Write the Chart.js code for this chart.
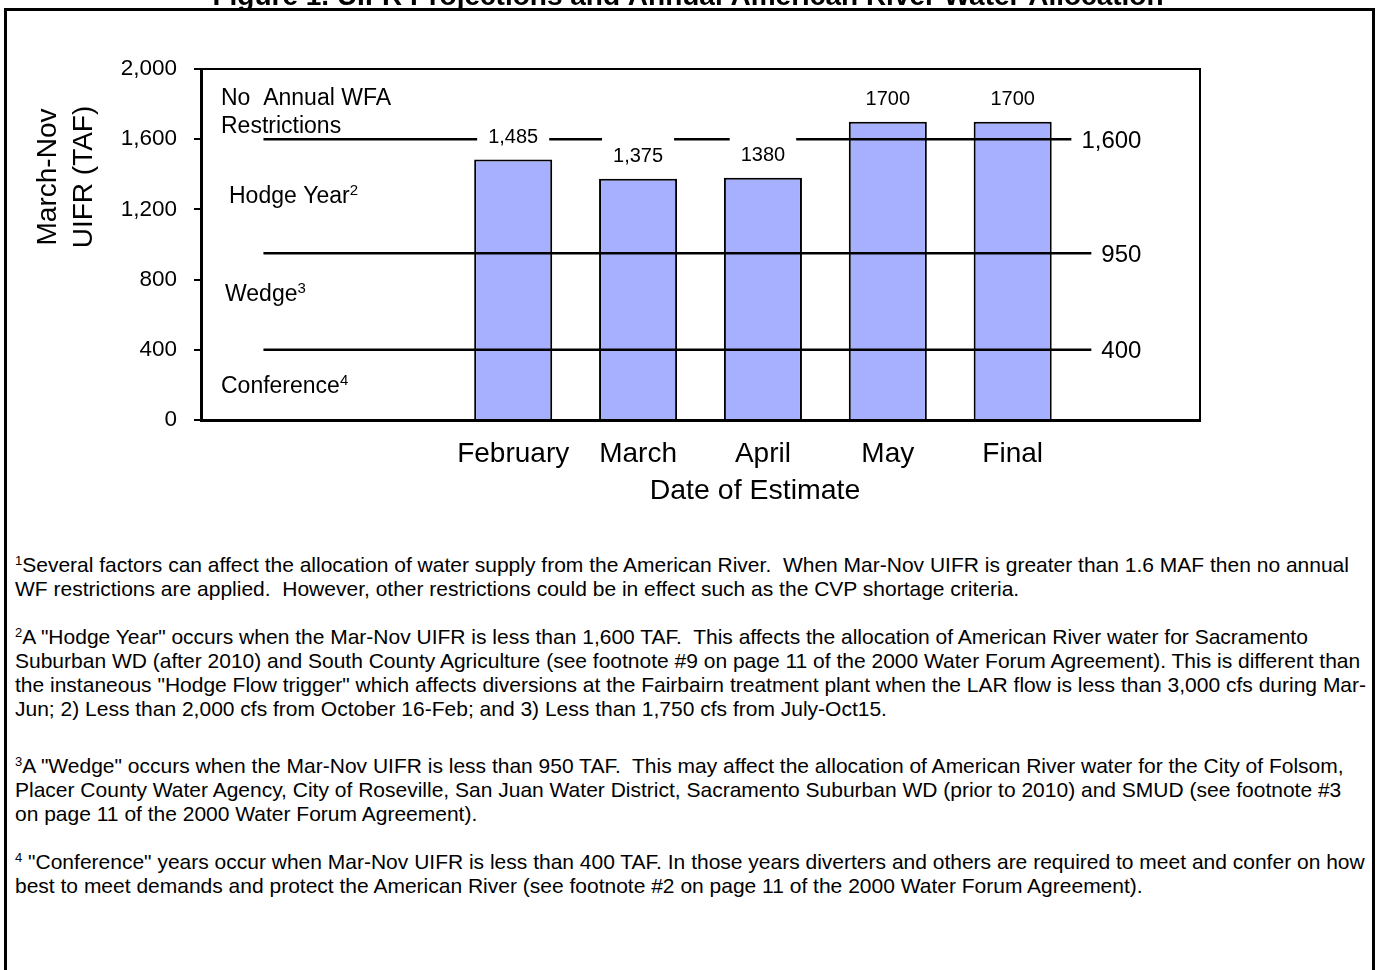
<!DOCTYPE html>
<html>
<head>
<meta charset="utf-8">
<script src="https://cdn.jsdelivr.net/npm/chart.js@4.4.1/dist/chart.umd.min.js"></script>
<style>
  body { margin: 0; background: #fff; font-family: "Liberation Sans", Arial, sans-serif; }
  #frame { position: absolute; left: 4px; top: 8px; width: 1365px; height: 1000px; border: 3px solid #000; }
  #chart { position: absolute; left: 0; top: 0; }
  #notes { position: absolute; left: 15px; top: 553px; font-size: 21px; line-height: 24px; color: #000; white-space: nowrap; }
  #notes p { margin: 0 0 24px 0; }
  #notes p.p2 { margin-bottom: 33px; }
  #notes sup { font-size: 13px; vertical-align: 7px; line-height: 0; }
</style>
</head>
<body>
<div id="frame"></div>
<canvas id="chart" width="1377" height="530"></canvas>
<div id="notes">
  <p><sup>1</sup>Several factors can affect the allocation of water supply from the American River.&nbsp; When Mar-Nov UIFR is greater than 1.6 MAF then no annual<br>WF restrictions are applied.&nbsp; However, other restrictions could be in effect such as the CVP shortage criteria.</p>
  <p class="p2"><sup>2</sup>A "Hodge Year" occurs when the Mar-Nov UIFR is less than 1,600 TAF.&nbsp; This affects the allocation of American River water for Sacramento<br>Suburban WD (after 2010) and South County Agriculture (see footnote #9 on page 11 of the 2000 Water Forum Agreement). This is different than<br>the instaneous "Hodge Flow trigger" which affects diversions at the Fairbairn treatment plant when the LAR flow is less than 3,000 cfs during Mar-<br>Jun; 2) Less than 2,000 cfs from October 16-Feb; and 3) Less than 1,750 cfs from July-Oct15.</p>
  <p><sup>3</sup>A "Wedge" occurs when the Mar-Nov UIFR is less than 950 TAF.&nbsp; This may affect the allocation of American River water for the City of Folsom,<br>Placer County Water Agency, City of Roseville, San Juan Water District, Sacramento Suburban WD (prior to 2010) and SMUD (see footnote #3<br>on page 11 of the 2000 Water Forum Agreement).</p>
  <p><sup>4</sup> "Conference" years occur when Mar-Nov UIFR is less than 400 TAF. In those years diverters and others are required to meet and confer on how<br>best to meet demands and protect the American River (see footnote #2 on page 11 of the 2000 Water Forum Agreement).</p>
</div>
<script>
// categories (empty slots keep the bars where they are in the original)
const categories = ['', '', 'February', 'March', 'April', 'May', 'Final', ''];
const uifr = [null, null, 1485, 1375, 1380, 1700, 1700, null];
const barLabels = ['', '', '1,485', '1,375', '1380', '1700', '1700', ''];

// WFA thresholds (TAF)
const thresholds = [1600, 950, 400];
const thresholdLabels = ['1,600', '950', '400'];
// line extent, in category units
const thresholdStart = [0.5, 0.5, 0.5];
const thresholdEnd = [6.97, 7.13, 7.13];

const yTicks = [0, 400, 800, 1200, 1600, 2000];

const FONT = '"Liberation Sans", Arial, sans-serif';

const lineSets = thresholds.map((t, i) => ({
  type: 'line',
  xAxisID: 'x2',
  data: [{ x: thresholdStart[i], y: t }, { x: thresholdEnd[i], y: t }],
  borderColor: '#000',
  borderWidth: 2.5,
  pointRadius: 0,
  order: 0
}));

// labels, notes and titles drawn on top
const overlay = {
  id: 'overlay',
  afterDatasetsDraw(chart) {
    const ctx = chart.ctx;
    const a = chart.chartArea;
    const x = chart.scales.x, y = chart.scales.y, x2 = chart.scales.x2;
    ctx.save();

    // top and right frame of plot
    ctx.strokeStyle = '#000';
    ctx.lineWidth = 2;
    ctx.beginPath();
    ctx.moveTo(a.left, a.top);
    ctx.lineTo(a.right, a.top);
    ctx.lineTo(a.right, a.bottom);
    ctx.stroke();

    // bar value labels on white boxes
    ctx.font = '20px ' + FONT;
    ctx.textAlign = 'center';
    ctx.textBaseline = 'middle';
    uifr.forEach((v, i) => {
      if (v == null) return;
      const cx = x.getPixelForValue(i);
      const cy = y.getPixelForValue(v) - 23;
      const w = ctx.measureText(barLabels[i]).width + 22;
      ctx.fillStyle = '#fff';
      ctx.fillRect(cx - w / 2, cy - 20, w, 40);
      ctx.fillStyle = '#000';
      ctx.fillText(barLabels[i], cx, cy + 1);
    });

    // threshold values at the right end of the lines
    ctx.font = '24px ' + FONT;
    ctx.textAlign = 'left';
    thresholds.forEach((t, i) => {
      ctx.fillText(thresholdLabels[i], x2.getPixelForValue(thresholdEnd[i]) + 10, y.getPixelForValue(t) + 2);
    });

    // zone names
    const notes = [
      { text: 'No  Annual WFA', sup: '', dx: 20, v: 1829 },
      { text: 'Restrictions', sup: '', dx: 20, v: 1672 },
      { text: 'Hodge Year', sup: '2', dx: 28, v: 1270 },
      { text: 'Wedge', sup: '3', dx: 24, v: 712 },
      { text: 'Conference', sup: '4', dx: 20, v: 188 }
    ];
    notes.forEach(n => {
      const px = a.left + n.dx, py = y.getPixelForValue(n.v);
      ctx.font = '23px ' + FONT;
      ctx.fillText(n.text, px, py);
      if (n.sup) {
        const w = ctx.measureText(n.text).width;
        ctx.font = '15px ' + FONT;
        ctx.fillText(n.sup, px + w, py - 6);
      }
    });
    ctx.restore();
  },
  afterDraw(chart) {
    const ctx = chart.ctx;
    const a = chart.chartArea;
    ctx.save();
    ctx.fillStyle = '#000';
    ctx.textAlign = 'center';

    // page title (cut at top like the original)
    ctx.font = 'bold 28px ' + FONT;
    ctx.textBaseline = 'alphabetic';
    ctx.fillText('Figure 1. UIFR Projections and Annual American River Water Allocation', 688, 5);

    // x axis title
    ctx.textBaseline = 'middle';
    ctx.font = '28.5px ' + FONT;
    ctx.fillText('Date of Estimate', a.left + 554, a.bottom + 71);

    // y axis title, two lines
    ctx.translate(48, a.top + 108);
    ctx.rotate(-Math.PI / 2);
    ctx.font = '28px ' + FONT;
    ctx.fillText('March-Nov', 0, 0);
    ctx.fillText('UIFR (TAF)', 0, 36);
    ctx.restore();
  }
};

new Chart(document.getElementById('chart'), {
  type: 'bar',
  data: {
    labels: categories,
    datasets: [{
      data: uifr,
      backgroundColor: '#a6b0ff',
      borderColor: '#000',
      borderWidth: 2,
      categoryPercentage: 1,
      barPercentage: 0.625,
      grouped: false,
      order: 1
    }].concat(lineSets)
  },
  options: {
    responsive: false,
    animation: false,
    devicePixelRatio: 1,
    layout: { padding: { top: 69, right: 177, left: 0, bottom: 0 } },
    plugins: { legend: { display: false }, tooltip: { enabled: false } },
    scales: {
      x: {
        z: 1,
        grid: { display: true, drawOnChartArea: false, drawTicks: false },
        border: { color: '#000', width: 3 },
        ticks: { color: '#000', font: { family: FONT, size: 28 }, padding: 17, maxRotation: 0, autoSkip: false },
        afterFit: s => { s.height = 110; }
      },
      x2: { type: 'linear', display: false, offset: false, min: 0, max: 8 },
      y: {
        min: 0,
        max: 2000,
        afterBuildTicks: s => { s.ticks = yTicks.map(v => ({ value: v })); },
        grid: { drawOnChartArea: false, drawTicks: true, tickLength: 7, color: '#000', lineWidth: 2 },
        border: { color: '#000', width: 3 },
        ticks: {
          color: '#000',
          font: { family: FONT, size: 22.5 },
          padding: 17,
          callback: v => v.toLocaleString('en-US')
        },
        afterFit: s => { s.width = 201; }
      }
    }
  },
  plugins: [overlay]
});
</script>
</body>
</html>
